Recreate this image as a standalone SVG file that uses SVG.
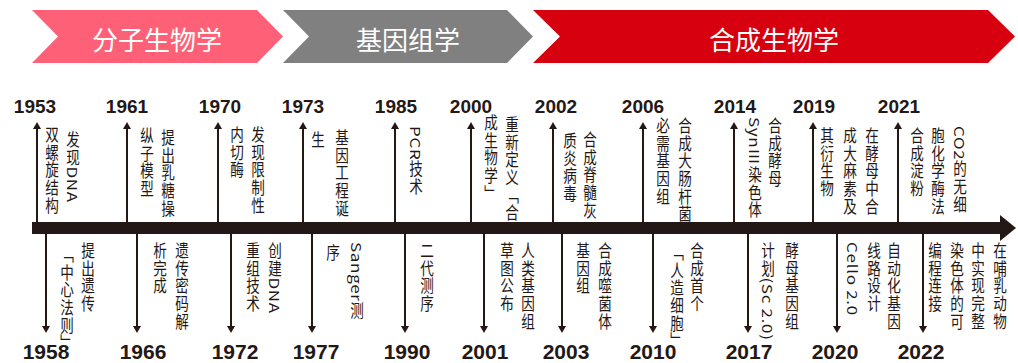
<svg xmlns="http://www.w3.org/2000/svg" width="1018" height="363" viewBox="0 0 1018 363">
<style>
.band{font-family:"Noto Sans CJK SC","Noto Sans",sans-serif;font-size:26px;fill:#fff;text-anchor:middle}
.yr{font-family:"Liberation Sans","Noto Sans",sans-serif;font-weight:bold;fill:#231815;text-anchor:middle}
.yt{font-size:19px}
.yb{font-size:21px}
.v{font-family:"Noto Sans CJK SC","Liberation Sans",sans-serif;font-size:17px;fill:#231815;writing-mode:vertical-rl;letter-spacing:0.7px}
.ar{stroke:#231815;stroke-width:2;fill:none}
.up{marker-end:url(#ah)}
.dn{marker-end:url(#ah)}
</style>
<defs>
<marker id="ah" viewBox="0 -4 7 8" refX="0" refY="0" markerWidth="7" markerHeight="8" markerUnits="userSpaceOnUse" orient="auto">
<path d="M0,-4 L7,0 L0,4 z" fill="#231815"/>
</marker>
</defs>
<rect width="1018" height="363" fill="#fff"/>
<g id="bands">
<polygon points="32,10 257,10 283,36.5 257,63 32,63 58,36.5" fill="#fe6177"/>
<polygon points="283,10 507,10 533,36.5 507,63 283,63 309,36.5" fill="#808080"/>
<polygon points="533,10 988,10 1015,36.5 988,63 533,63 560,36.5" fill="#d7000f"/>
<text class="band" x="157" y="50">分子生物学</text>
<text class="band" x="408" y="50">基因组学</text>
<text class="band" x="774" y="50">合成生物学</text>
</g>
<g id="axis">
<rect x="32" y="222" width="969" height="12" fill="#231815"/>
<polygon points="1000,215 1016,228 1000,241" fill="#231815"/>
</g>
<g id="connectors" class="ar">
<line class="up" x1="37" y1="222" x2="37" y2="129"/>
<line class="up" x1="127" y1="222" x2="127" y2="129"/>
<line class="up" x1="218" y1="222" x2="218" y2="129"/>
<line class="up" x1="303" y1="222" x2="303" y2="129"/>
<line class="up" x1="395" y1="222" x2="395" y2="129"/>
<line class="up" x1="471" y1="222" x2="471" y2="129"/>
<line class="up" x1="553" y1="222" x2="553" y2="129"/>
<line class="up" x1="643" y1="222" x2="643" y2="129"/>
<line class="up" x1="734" y1="222" x2="734" y2="129"/>
<line class="up" x1="813" y1="222" x2="813" y2="129"/>
<line class="up" x1="898" y1="222" x2="898" y2="129"/>
<line class="dn" x1="46" y1="234" x2="46" y2="326"/>
<line class="dn" x1="137" y1="234" x2="137" y2="326"/>
<line class="dn" x1="231" y1="234" x2="231" y2="326"/>
<line class="dn" x1="312" y1="234" x2="312" y2="326"/>
<line class="dn" x1="405" y1="234" x2="405" y2="326"/>
<line class="dn" x1="484" y1="234" x2="484" y2="326"/>
<line class="dn" x1="562" y1="234" x2="562" y2="326"/>
<line class="dn" x1="653" y1="234" x2="653" y2="326"/>
<line class="dn" x1="748" y1="234" x2="748" y2="326"/>
<line class="dn" x1="837" y1="234" x2="837" y2="326"/>
<line class="dn" x1="923" y1="234" x2="923" y2="326"/>
</g>
<g id="e1953">
<text class="yr yt" x="35" y="113">1953</text>
<text class="v" transform="translate(73,131) scale(0.8,1)">发现DNA</text>
<text class="v" transform="translate(52,126) scale(0.8,1)">双螺旋结构</text>
</g>
<g id="e1961">
<text class="yr yt" x="127" y="113">1961</text>
<text class="v" transform="translate(168,129) scale(0.8,1)">提出乳糖操</text>
<text class="v" transform="translate(147,127) scale(0.8,1)">纵子模型</text>
</g>
<g id="e1970">
<text class="yr yt" x="220" y="113">1970</text>
<text class="v" transform="translate(258,126) scale(0.8,1)">发现限制性</text>
<text class="v" transform="translate(237,126) scale(0.8,1)">内切酶</text>
</g>
<g id="e1973">
<text class="yr yt" x="303" y="113">1973</text>
<text class="v" transform="translate(342,129) scale(0.8,1)">基因工程诞</text>
<text class="v" transform="translate(318,131) scale(0.8,1)">生</text>
</g>
<g id="e1985">
<text class="yr yt" x="396" y="113">1985</text>
<text class="v" transform="translate(416,126) scale(0.8,1)">PCR技术</text>
</g>
<g id="e2000">
<text class="yr yt" x="471" y="113">2000</text>
<text class="v" transform="translate(512,116) scale(0.8,1)">重新定义「合</text>
<text class="v" transform="translate(491,114) scale(0.8,1)">成生物学」</text>
</g>
<g id="e2002">
<text class="yr yt" x="556" y="113">2002</text>
<text class="v" transform="translate(590,131) scale(0.8,1)">合成脊髓灰</text>
<text class="v" transform="translate(570,132) scale(0.8,1)">质炎病毒</text>
</g>
<g id="e2006">
<text class="yr yt" x="643" y="113">2006</text>
<text class="v" transform="translate(685,117) scale(0.8,1)">合成大肠杆菌</text>
<text class="v" transform="translate(663,117) scale(0.8,1)">必需基因组</text>
</g>
<g id="e2014">
<text class="yr yt" x="735" y="113">2014</text>
<text class="v" transform="translate(775,117) scale(0.8,1)">合成酵母</text>
<text class="v" transform="translate(755,117) scale(0.8,1)">Syn<tspan style="text-orientation:sideways">Ⅲ</tspan>染色体</text>
</g>
<g id="e2019">
<text class="yr yt" x="814" y="113">2019</text>
<text class="v" transform="translate(872,127) scale(0.8,1)">在酵母中合</text>
<text class="v" transform="translate(850,127) scale(0.8,1)">成大麻素及</text>
<text class="v" transform="translate(827,127) scale(0.8,1)">其衍生物</text>
</g>
<g id="e2021">
<text class="yr yt" x="899" y="113">2021</text>
<text class="v" transform="translate(960,126) scale(0.8,1)">CO2的无细</text>
<text class="v" transform="translate(938,127) scale(0.8,1)">胞化学酶法</text>
<text class="v" transform="translate(917,127) scale(0.8,1)">合成淀粉</text>
</g>
<g id="e1958">
<text class="yr yb" x="46" y="359">1958</text>
<text class="v" transform="translate(88,242) scale(0.8,1)">提出遗传</text>
<text class="v" transform="translate(67,246) scale(0.8,1)">「中心法则」</text>
</g>
<g id="e1966">
<text class="yr yb" x="143" y="359">1966</text>
<text class="v" transform="translate(182,242) scale(0.8,1)">遗传密码解</text>
<text class="v" transform="translate(160,242) scale(0.8,1)">析完成</text>
</g>
<g id="e1972">
<text class="yr yb" x="235" y="359">1972</text>
<text class="v" transform="translate(275,242) scale(0.8,1)">创建DNA</text>
<text class="v" transform="translate(253,242) scale(0.8,1)">重组技术</text>
</g>
<g id="e1977">
<text class="yr yb" x="316" y="359">1977</text>
<text class="v" transform="translate(357,242) scale(0.8,1)">Sanger测</text>
<text class="v" transform="translate(333,244) scale(0.8,1)">序</text>
</g>
<g id="e1990">
<text class="yr yb" x="407" y="359">1990</text>
<text class="v" transform="translate(427,242) scale(0.8,1)">二代测序</text>
</g>
<g id="e2001">
<text class="yr yb" x="485" y="359">2001</text>
<text class="v" transform="translate(528,242) scale(0.8,1)">人类基因组</text>
<text class="v" transform="translate(507,242) scale(0.8,1)">草图公布</text>
</g>
<g id="e2003">
<text class="yr yb" x="566" y="359">2003</text>
<text class="v" transform="translate(605,242) scale(0.8,1)">合成噬菌体</text>
<text class="v" transform="translate(583,242) scale(0.8,1)">基因组</text>
</g>
<g id="e2010">
<text class="yr yb" x="653" y="359">2010</text>
<text class="v" transform="translate(697,242) scale(0.8,1)">合成首个</text>
<text class="v" transform="translate(677,244) scale(0.8,1)">「人造细胞」</text>
</g>
<g id="e2017">
<text class="yr yb" x="749" y="359">2017</text>
<text class="v" transform="translate(792,242) scale(0.8,1)">酵母基因组</text>
<text class="v" transform="translate(768,242) scale(0.8,1)">计划(Sc 2.0)</text>
</g>
<g id="e2020">
<text class="yr yb" x="835" y="359">2020</text>
<text class="v" transform="translate(894,242) scale(0.8,1)">自动化基因</text>
<text class="v" transform="translate(874,242) scale(0.8,1)">线路设计</text>
<text class="v" transform="translate(853,242) scale(0.8,1)">Cello 2.0</text>
</g>
<g id="e2022">
<text class="yr yb" x="921" y="359">2022</text>
<text class="v" transform="translate(1000,242) scale(0.8,1)">在哺乳动物</text>
<text class="v" transform="translate(978,242) scale(0.8,1)">中实现完整</text>
<text class="v" transform="translate(957,242) scale(0.8,1)">染色体的可</text>
<text class="v" transform="translate(935,242) scale(0.8,1)">编程连接</text>
</g>
</svg>
